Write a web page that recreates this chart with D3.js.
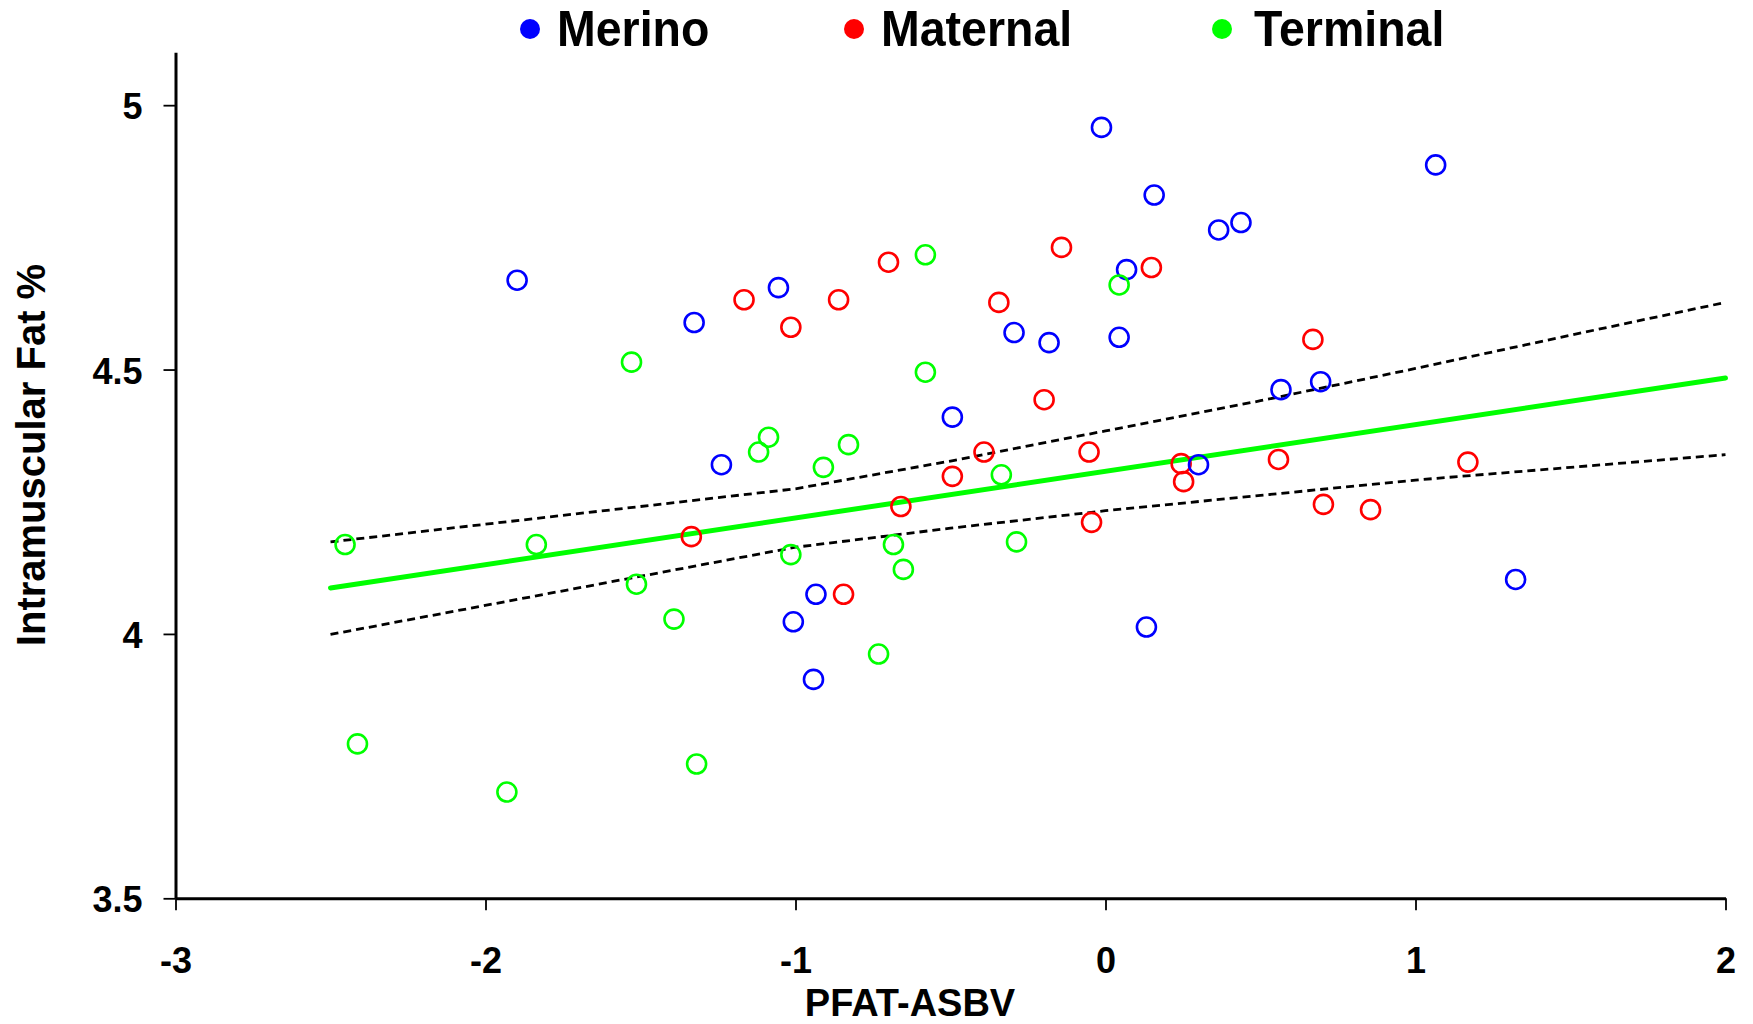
<!DOCTYPE html>
<html>
<head>
<meta charset="utf-8">
<script src="https://cdn.jsdelivr.net/npm/d3@7"></script>
<style>
  body { margin: 0; background: #fff; }
  text { font-family: "Liberation Sans", Arial, sans-serif; font-weight: bold; fill: #000; }
</style>
</head>
<body>
<div id="chart"></div>
<script>
var w = 1753,
    h = 1024;

// data
var groups = ['Merino', 'Maternal', 'Terminal'];

var merinoX = [-1.898, -1.327, -1.055, -1.239, -0.494, -0.295, -0.182, -0.013, 0.044, 0.068, 0.157,
               0.365, 0.437, 1.065, 0.566, 0.694, 0.300, 1.323, 0.132, -1.007, -0.934, -0.942];
var merinoY = [4.669, 4.589, 4.655, 4.320, 4.410, 4.570, 4.551, 4.958, 4.561, 4.689, 4.830,
               4.764, 4.778, 4.887, 4.462, 4.477, 4.320, 4.103, 4.013, 4.023, 4.075, 3.914];

var maternalX = [-1.166, -1.015, -0.861, -0.700, -0.142, -0.344, 0.148, -0.198, 0.669, -0.392, -0.053,
                 -0.494, 0.244, 0.252, 0.558, 1.169, -0.660, -1.336, -0.045, 0.703, 0.855, -0.845];
var maternalY = [4.632, 4.580, 4.632, 4.703, 4.731, 4.627, 4.693, 4.443, 4.557, 4.344, 4.344,
                 4.298, 4.322, 4.288, 4.330, 4.325, 4.241, 4.184, 4.211, 4.245, 4.235, 4.075];

var terminalX = [-1.529, -0.581, -0.581, 0.044, -1.087, -1.119, -0.910, -0.829, -0.336, -2.453, -1.836,
                 -1.015, -0.684, -0.652, -0.287, -1.513, -1.392, -0.732, -2.413, -1.319, -1.931];
var terminalY = [4.514, 4.717, 4.495, 4.660, 4.372, 4.344, 4.315, 4.358, 4.301, 4.169, 4.169,
                 4.150, 4.169, 4.122, 4.174, 4.094, 4.028, 3.962, 3.792, 3.754, 3.701];

// regression line and confidence band
var fitX = [-2.5, 2];
var fitY = [4.087, 4.484];
var bandX = [-2.5, -1, -0.5, 0, 0.5, 1, 1.5, 2];
var upperY = [4.174, 4.2745, 4.327, 4.384, 4.441, 4.502, 4.565, 4.627];
var lowerY = [3.999, 4.164, 4.200, 4.233, 4.262, 4.291, 4.315, 4.339];

var xTicks = [-3, -2, -1, 0, 1, 2];
var yTicks = [3.5, 4, 4.5, 5];

var palette = {
    Merino: '#0000ff',
    Maternal: '#ff0000',
    Terminal: '#00ff00'
}

var x = d3.scaleLinear().domain([-3, 2]).range([175.5, 1725.5]);
var y = d3.scaleLinear().domain([3.5, 5.1]).range([898.3, 52.3]);

var svg = d3.select('#chart')
    .append('svg')
    .attr('width', w)
    .attr('height', h)

function pairs(xs, ys) {
    return xs.map(function(d, i) { return [d, ys[i]] })
}

var line = d3.line()
    .x(function(d) { return x(d[0]) })
    .y(function(d) { return y(d[1]) })

// dashed band
svg.selectAll('.band')
    .data([pairs(bandX, upperY), pairs(bandX, lowerY)])
    .enter().append('path')
    .attr('class', 'band')
    .attr('d', line)
    .attr('fill', 'none')
    .attr('stroke', '#000')
    .attr('stroke-width', 2.8)
    .attr('stroke-dasharray', '8,5')

// fitted line
svg.append('path')
    .attr('d', line(pairs(fitX, fitY)))
    .attr('fill', 'none')
    .attr('stroke', '#00ff00')
    .attr('stroke-width', 5)
    .attr('stroke-linecap', 'round')

// points: red first, then blue, then green on top
var layers = [
    { name: 'Maternal', pts: pairs(maternalX, maternalY) },
    { name: 'Merino', pts: pairs(merinoX, merinoY) },
    { name: 'Terminal', pts: pairs(terminalX, terminalY) }
]

layers.forEach(function(g) {
    svg.append('g').selectAll('circle')
        .data(g.pts).enter()
        .append('circle')
        .attr('cx', function(d) { return x(d[0]) })
        .attr('cy', function(d) { return y(d[1]) })
        .attr('r', 9.5)
        .attr('fill', 'none')
        .attr('stroke', palette[g.name])
        .attr('stroke-width', 2.6)
})

// axes
var xAxis = svg.append('g')
    .attr('transform', 'translate(0,' + y(3.5) + ')')
    .call(d3.axisBottom(x)
        .tickValues(xTicks)
        .tickSize(12)
        .tickSizeOuter(0)
        .tickPadding(37)
        .tickFormat(function(d) { return String(d) }))

var yAxis = svg.append('g')
    .attr('transform', 'translate(' + x(-3) + ',0)')
    .call(d3.axisLeft(y)
        .tickValues(yTicks)
        .tickSize(12)
        .tickSizeOuter(0)
        .tickPadding(21)
        .tickFormat(function(d) { return String(d) }))

svg.selectAll('.domain').attr('stroke', '#000').attr('stroke-width', 3)
svg.selectAll('.tick line').attr('stroke', '#000').attr('stroke-width', 1.8)
svg.selectAll('.tick text')
    .attr('font-family', '"Liberation Sans", Arial, sans-serif')
    .attr('font-weight', 'bold')
    .attr('font-size', 36)
    .attr('fill', '#000')
yAxis.selectAll('.tick text').attr('dy', '0.38em')

// axis titles
svg.append('text')
    .attr('x', 910)
    .attr('y', 1016)
    .attr('text-anchor', 'middle')
    .attr('font-size', 38)
    .text('PFAT-ASBV')

svg.append('text')
    .attr('transform', 'translate(45,455) rotate(-90)')
    .attr('text-anchor', 'middle')
    .attr('font-size', 40)
    .text('Intramuscular Fat %')

// legend
var legendX = [530, 854, 1222];

var legend = svg.selectAll('.legend')
    .data(groups).enter()
    .append('g')
    .attr('class', 'legend')
    .attr('transform', function(d, i) { return 'translate(' + legendX[i] + ',29)' })

legend.append('circle')
    .attr('r', 10)
    .attr('fill', function(d) { return palette[d] })

// the reference type is a little condensed
legend.append('text')
    .attr('transform', function(d, i) { return 'translate(' + (i == 2 ? 32 : 27) + ',17) scale(0.93,1)' })
    .attr('font-size', 50)
    .text(function(d) { return d })
</script>
</body>
</html>
